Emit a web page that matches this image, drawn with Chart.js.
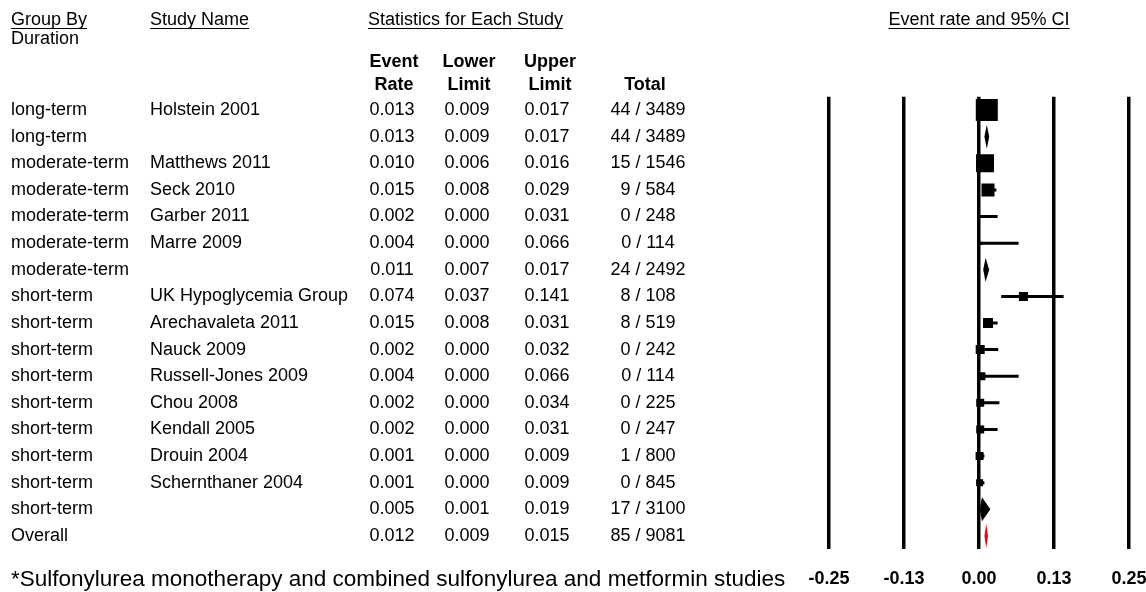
<!DOCTYPE html>
<html><head><meta charset="utf-8">
<script src="https://cdn.jsdelivr.net/npm/chart.js@4"></script>
<style>html,body{margin:0;padding:0;background:#fff;overflow:hidden}canvas{display:block}</style>
</head><body>
<canvas id="c" width="1146" height="592"></canvas>
<script>
// ---- data ----
const groups = ['long-term','long-term','moderate-term','moderate-term','moderate-term','moderate-term','moderate-term',
  'short-term','short-term','short-term','short-term','short-term','short-term','short-term','short-term','short-term','Overall'];
const studies = ['Holstein 2001','','Matthews 2011','Seck 2010','Garber 2011','Marre 2009','',
  'UK Hypoglycemia Group','Arechavaleta 2011','Nauck 2009','Russell-Jones 2009','Chou 2008','Kendall 2005','Drouin 2004','Schernthaner 2004','',''];
const rowKind = ['study','summary','study','study','study','study','summary',
  'study','study','study','study','study','study','study','study','summary','overall'];
const eventRate = [0.013,0.013,0.010,0.015,0.002,0.004,0.011,0.074,0.015,0.002,0.004,0.002,0.002,0.001,0.001,0.005,0.012];
const lowerLimit = [0.009,0.009,0.006,0.008,0.000,0.000,0.007,0.037,0.008,0.000,0.000,0.000,0.000,0.000,0.000,0.001,0.009];
const upperLimit = [0.017,0.017,0.016,0.029,0.031,0.066,0.017,0.141,0.031,0.032,0.066,0.034,0.031,0.009,0.009,0.019,0.015];
const events = [44,44,15,9,0,0,24,8,8,0,0,0,0,1,0,17,85];
const totals = [3489,3489,1546,584,248,114,2492,108,519,242,114,225,247,800,845,3100,9081];
const relWeight = [22,0,18,13,3,3,0,9,10,9,8,8,8,8,7,0,0];
const tickValues = [-0.25,-0.125,0,0.125,0.25];
const tickLabels = ['-0.25','-0.13','0.00','0.13','0.25'];

// ---- chart ----
const FONT = '"Liberation Sans", Arial, sans-serif';
Chart.defaults.font.family = FONT;
Chart.defaults.color = '#000';

const studyIdx = rowKind.map((k,i)=>k==='study'?i:-1).filter(i=>i>=0);
const ciSets = studyIdx.map(i=>({
  type:'line',
  data:[{x:lowerLimit[i],y:i},{x:upperLimit[i],y:i}],
  borderColor:'#000', borderWidth:3, pointRadius:0, showLine:true, order:2
}));
const squareSet = {
  type:'scatter',
  data: studyIdx.map(i=>({x:eventRate[i],y:i})),
  pointStyle:'rect',
  pointRadius: studyIdx.map(i=>relWeight[i]/Math.SQRT2),
  pointHoverRadius: studyIdx.map(i=>relWeight[i]/Math.SQRT2),
  backgroundColor:'#000', borderWidth:0, order:1
};

function fmt(v){return v.toFixed(3);}

const tablePlugin = {
  id:'table',
  afterDraw(chart){
    const ctx = chart.ctx, ys = chart.scales.y, xs = chart.scales.x;
    ctx.save();
    // summary diamonds
    rowKind.forEach((k,i)=>{
      if(k==='study') return;
      const y = ys.getPixelForValue(i);
      const xl = xs.getPixelForValue(lowerLimit[i]), xe = xs.getPixelForValue(eventRate[i]), xu = xs.getPixelForValue(upperLimit[i]);
      ctx.beginPath();
      ctx.moveTo(xl,y); ctx.lineTo(xe,y-12); ctx.lineTo(xu,y); ctx.lineTo(xe,y+12); ctx.closePath();
      ctx.fillStyle = k==='overall' ? '#ff0000' : '#000';
      ctx.fill();
    });
    // headers
    ctx.fillStyle='#000'; ctx.strokeStyle='#000'; ctx.lineWidth=1;
    ctx.textBaseline='middle';
    const under=(t,x,y,align)=>{
      ctx.textAlign=align; ctx.fillText(t,x,y);
      const w=ctx.measureText(t).width; const x0= align==='center'? x-w/2 : x;
      ctx.beginPath(); ctx.moveTo(x0,y+8.5); ctx.lineTo(x0+w,y+8.5); ctx.stroke();
    };
    ctx.font='18px '+FONT;
    under('Group By',11,20,'left');
    ctx.textAlign='left'; ctx.fillText('Duration',11,39);
    under('Study Name',150,20,'left');
    under('Statistics for Each Study',368,20,'left');
    under('Event rate and 95% CI',(xs.left+xs.right)/2,20,'center');
    ctx.font='bold 18px '+FONT; ctx.textAlign='center';
    ctx.fillText('Event',394,62); ctx.fillText('Rate',394,85);
    ctx.fillText('Lower',469,62); ctx.fillText('Limit',469,85);
    ctx.fillText('Upper',550,62); ctx.fillText('Limit',550,85);
    ctx.fillText('Total',645,85);
    // rows
    ctx.font='18px '+FONT;
    groups.forEach((g,i)=>{
      const y = ys.getPixelForValue(i);
      ctx.textAlign='left';
      ctx.fillText(g,11,y);
      ctx.fillText(studies[i],150,y);
      ctx.textAlign='center';
      ctx.fillText(fmt(eventRate[i]),392,y);
      ctx.fillText(fmt(lowerLimit[i]),467,y);
      ctx.fillText(fmt(upperLimit[i]),547,y);
      ctx.fillText(events[i]+' / '+totals[i],648,y);
    });
    ctx.textAlign='left';
    ctx.font='22.5px '+FONT;
    ctx.fillText('*Sulfonylurea monotherapy and combined sulfonylurea and metformin studies',11,580);
    ctx.restore();
  }
};

new Chart(document.getElementById('c'),{
  data:{datasets:[...ciSets, squareSet]},
  options:{
    responsive:false, animation:false, devicePixelRatio:1,
    layout:{padding:{left:829,right:17,top:96.7,bottom:0}},
    plugins:{legend:{display:false},tooltip:{enabled:false}},
    scales:{
      x:{type:'linear',min:-0.25,max:0.25,position:'bottom',
        afterBuildTicks:(s)=>{s.ticks=tickValues.map(v=>({value:v}));},
        afterFit:(s)=>{s.height=592-549.3; s.paddingLeft=0; s.paddingRight=0;},
        ticks:{callback:(v,i)=>tickLabels[i],font:{size:18,weight:'bold'},color:'#000',padding:19,maxRotation:0,autoSkip:false},
        grid:{color:'#000',lineWidth:3.5,drawTicks:false},
        border:{display:false}
      },
      y:{type:'linear',min:-0.5,max:16.5,reverse:true,display:false}
    }
  },
  plugins:[tablePlugin]
});
</script>
</body></html>
